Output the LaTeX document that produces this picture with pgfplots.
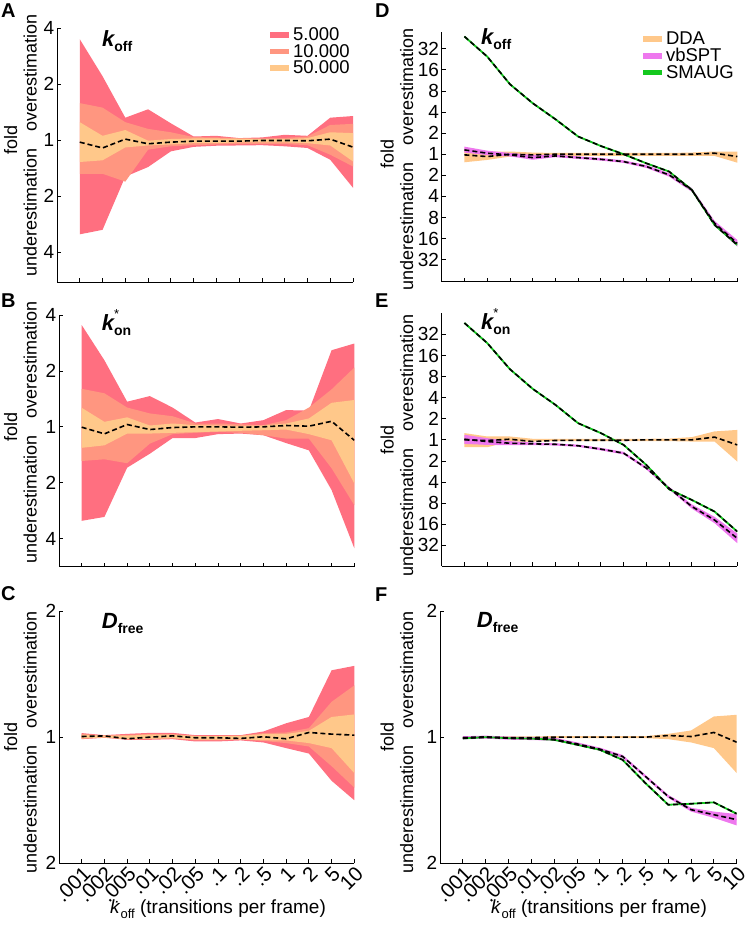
\documentclass[border=0pt]{standalone}
\usepackage{fontspec}
\setmainfont{Liberation Sans}
\usepackage{pgfplots}
\pgfplotsset{compat=1.18}
\usepackage{pgfplotstable}
\usepgfplotslibrary{fillbetween}

\definecolor{cred}{RGB}{255,111,128}
\definecolor{csal}{RGB}{255,150,128}
\definecolor{cyel}{RGB}{255,200,138}
\definecolor{cmag}{RGB}{238,120,238}
\definecolor{cgrn}{RGB}{20,200,30}

% panels A-C: log2(estimate/true), bands for 5.000 / 10.000 / 50.000 trajectories
\pgfplotstableread{
x rlo rhi slo shi ylo yhi med
0 -1.68 1.80 -0.60 0.66 -0.39 0.32 -0.036
1 -1.60 1.14 -0.60 0.58 -0.36 0.077 -0.14
2 -0.65 0.40 -0.74 0.32 -0.13 0.18 0.018
3 -0.48 0.55 -0.17 0.20 -0.095 -0.01 -0.065
4 -0.20 0.30 -0.11 0.14 -0.077 0.02 -0.036
5 -0.12 0.065 -0.09 0.054 -0.054 0.03 -0.018
6 -0.10 0.077 -0.077 0.048 -0.054 0.03 -0.018
7 -0.095 0.036 -0.07 0.036 -0.04 0.024 -0.018
8 -0.09 0.048 -0.065 0.03 -0.04 0.018 -0.006
9 -0.11 0.095 -0.07 0.04 -0.04 0.018 -0.006
10 -0.14 0.077 -0.09 0.065 -0.054 0.036 -0.012
11 -0.35 0.40 -0.26 0.27 -0.095 0.14 0.018
12 -0.85 0.43 -0.47 0.29 -0.38 0.125 -0.125
}\tA
\pgfplotstableread{
x rlo rhi slo shi ylo yhi med
0 -1.68 1.82 -0.61 0.68 -0.375 0.34 -0.006
1 -1.61 1.19 -0.58 0.60 -0.33 0.09 -0.125
2 -0.73 0.45 -0.65 0.345 -0.12 0.17 0.042
3 -0.48 0.55 -0.30 0.24 -0.12 0.024 -0.048
4 -0.20 0.345 -0.13 0.19 -0.107 0.06 -0.012
5 -0.20 0.077 -0.107 0.06 -0.095 0.03 0
6 -0.13 0.14 -0.09 0.06 -0.083 0.024 0
7 -0.12 0.06 -0.107 0.048 -0.07 0.018 -0.006
8 -0.15 0.12 -0.15 0.03 -0.06 0.024 0
9 -0.29 0.30 -0.21 0.12 -0.048 0.06 0.024
10 -0.42 0.29 -0.21 0.345 -0.13 0.15 0.012
11 -1.13 1.37 -0.74 0.67 -0.24 0.43 0.10
12 -2.17 1.49 -1.40 1.06 -1.01 0.48 -0.24
}\tB
\pgfplotstableread{
x rlo rhi slo shi ylo yhi med
0 -0.016 0.032 -0.013 0.026 -0.010 0.018 0.005
1 -0.005 0.016 -0.003 0.013 -0.002 0.012 0.010
2 -0.021 0.026 -0.018 0.018 -0.015 0.012 -0.013
3 -0.021 0.034 -0.016 0.026 -0.012 0.020 0
4 -0.016 0.034 -0.010 0.024 -0.008 0.020 0.010
5 -0.034 0.016 -0.026 0.011 -0.020 0.008 -0.005
6 -0.034 0.016 -0.026 0.011 -0.020 0.008 -0.005
7 -0.026 0.016 -0.021 0.013 -0.018 0.010 -0.010
8 -0.042 0.045 -0.030 0.032 -0.024 0.024 0.003
9 -0.087 0.110 -0.047 0.037 -0.026 0.026 -0.013
10 -0.130 0.160 -0.074 0.071 -0.047 0.050 0.037
11 -0.346 0.530 -0.230 0.280 -0.087 0.160 0.024
12 -0.500 0.565 -0.400 0.410 -0.285 0.180 0.016
}\tC
% panels D-F: DDA band/median, vbSPT band/median, SMAUG median
\pgfplotstableread{
x dlo dhi dmed vlo vhi vmed smed
0 -0.38 0.28 -0.03 0.08 0.36 0.205 5.58
1 -0.27 0.13 -0.11 -0.04 0.17 0.05 4.63
2 -0.11 0.13 0.00 -0.10 0.06 -0.03 3.32
3 -0.14 0.08 -0.03 -0.26 -0.03 -0.16 2.42
4 -0.08 0.06 0.00 -0.14 -0.02 -0.08 1.66
5 -0.08 0.06 0.00 -0.22 -0.10 -0.16 0.84
6 -0.08 0.06 0.00 -0.30 -0.18 -0.24 0.39
7 -0.08 0.06 0.00 -0.41 -0.29 -0.35 0.00
8 -0.08 0.06 0.00 -0.65 -0.51 -0.58 -0.43
9 -0.08 0.06 0.00 -1.06 -0.90 -0.98 -0.82
10 -0.08 0.08 0.00 -1.78 -1.60 -1.69 -1.69
11 -0.08 0.13 0.05 -3.38 -3.16 -3.27 -3.35
12 -0.40 0.13 -0.11 -4.38 -4.06 -4.22 -4.30
}\tD
\pgfplotstableread{
x dlo dhi dmed vlo vhi vmed smed
0 -0.35 0.32 0.00 -0.19 0.24 0.03 5.54
1 -0.35 0.16 -0.03 -0.24 0.08 -0.08 4.59
2 -0.08 0.16 0.03 -0.25 -0.06 -0.16 3.35
3 -0.08 0.05 -0.08 -0.25 -0.13 -0.19 2.42
4 -0.06 0.05 -0.03 -0.27 -0.17 -0.21 1.66
5 -0.06 0.05 -0.02 -0.33 -0.23 -0.28 0.79
6 -0.06 0.05 -0.02 -0.50 -0.38 -0.44 0.32
7 -0.06 0.05 -0.02 -0.69 -0.57 -0.63 -0.24
8 -0.06 0.05 0.00 -1.40 -1.28 -1.34 -1.19
9 -0.06 0.06 0.00 -2.35 -2.23 -2.29 -2.34
10 -0.08 0.13 0.00 -3.26 -3.06 -3.16 -2.85
11 -0.08 0.40 0.13 -3.95 -3.65 -3.80 -3.40
12 -1.03 0.47 -0.24 -4.90 -4.44 -4.67 -4.35
}\tE
\pgfplotstableread{
x dlo dhi dmed vlo vhi vmed smed
0 -0.010 0.006 -0.005 -0.017 0.007 -0.005 -0.010
1 -0.008 0.008 0.000 -0.012 0.012 0.000 0.000
2 -0.010 0.006 -0.004 -0.020 0.004 -0.008 -0.008
3 -0.010 0.006 -0.004 -0.023 0.001 -0.011 -0.011
4 -0.008 0.008 0.000 -0.028 -0.004 -0.016 -0.021
5 -0.008 0.008 0.000 -0.065 -0.041 -0.053 -0.060
6 -0.008 0.008 0.000 -0.107 -0.083 -0.095 -0.100
7 -0.008 0.008 0.000 -0.165 -0.141 -0.153 -0.180
8 -0.008 0.008 0.000 -0.323 -0.299 -0.311 -0.364
9 -0.016 0.026 0.013 -0.482 -0.458 -0.470 -0.536
10 -0.042 0.053 0.005 -0.590 -0.560 -0.575 -0.528
11 -0.087 0.164 0.037 -0.640 -0.590 -0.615 -0.517
12 -0.285 0.177 -0.040 -0.700 -0.610 -0.654 -0.607
}\tF

\pgfplotsset{
  swatch/.style={legend image code/.code={\fill[##1, draw=none] (0pt,-2.8pt) rectangle (19pt,2.8pt);}},
  panel/.style={
    scale only axis, anchor=south west,
    axis lines*=left, axis line style={-, line width=0.9pt},
    xmin=-1, xmax=12, xtick={0,...,12}, xticklabels={},
    tick align=inside, major tick length=4pt,
    every tick/.style={black, line width=0.8pt},
    tick label style={font=\fontsize{19}{22}\selectfont},
    yticklabel style={inner sep=2.5pt},
    legend style={draw=none, fill=none, anchor=north west,
      font=\fontsize{18.5}{20}\selectfont, inner sep=0pt,
      row sep=0.5pt, column sep=3pt, nodes={inner sep=0.8pt}},
    legend cell align=left,
  },
  bottomlabels/.style={
    xticklabels={.001,.002,.005,.01,.02,.05,.1,.2,.5,1,2,5,10},
    xticklabel style={rotate=45, anchor=north east, inner sep=1pt, font=\fontsize{20.5}{22}\selectfont},
  },
  med/.style={black, line width=1.6pt, dash pattern=on 5pt off 3pt, forget plot},
}

\newcommand{\threebands}[1]{%
  \addplot[name path=rh, draw=none, forget plot] table[x=x,y=rhi]{#1};
  \addplot[name path=rl, draw=none, forget plot] table[x=x,y=rlo]{#1};
  \addplot[fill=cred, draw=none, swatch] fill between[of=rh and rl];
  \addplot[name path=sh, draw=none, forget plot] table[x=x,y=shi]{#1};
  \addplot[name path=sl, draw=none, forget plot] table[x=x,y=slo]{#1};
  \addplot[fill=csal, draw=none, swatch] fill between[of=sh and sl];
  \addplot[name path=yh, draw=none, forget plot] table[x=x,y=yhi]{#1};
  \addplot[name path=yl, draw=none, forget plot] table[x=x,y=ylo]{#1};
  \addplot[fill=cyel, draw=none, swatch] fill between[of=yh and yl];
  \addplot[med] table[x=x,y=med]{#1};
}
\newcommand{\methods}[1]{%
  \addplot[name path=dh, draw=none, forget plot] table[x=x,y=dhi]{#1};
  \addplot[name path=dl, draw=none, forget plot] table[x=x,y=dlo]{#1};
  \addplot[fill=cyel, draw=none, swatch] fill between[of=dh and dl];
  \addplot[name path=vh, draw=none, forget plot] table[x=x,y=vhi]{#1};
  \addplot[name path=vl, draw=none, forget plot] table[x=x,y=vlo]{#1};
  \addplot[fill=cmag, draw=none, swatch] fill between[of=vh and vl];
  \addplot[cmag, line width=1.5pt, forget plot] table[x=x,y=vmed]{#1};
  \addplot[cgrn, line width=1.8pt, swatch] table[x=x,y=smed]{#1};
  \addplot[med] table[x=x,y=dmed]{#1};
  \addplot[med] table[x=x,y=vmed]{#1};
  \addplot[med] table[x=x,y=smed]{#1};
}

\newcommand{\foldlabel}{fold\\\makebox[130pt][r]{underestimation}\hspace{17pt}\makebox[130pt][l]{overestimation}}
\newcommand{\koff}{{\fontsize{22}{24}\selectfont\bfseries\itshape k}\raisebox{-5pt}{\fontsize{14}{16}\selectfont\bfseries off}}
\newcommand{\kon}{{\fontsize{22}{24}\selectfont\bfseries\itshape k}\rlap{\raisebox{12pt}{\fontsize{13}{14}\selectfont *}}\raisebox{-5pt}{\fontsize{14}{16}\selectfont\bfseries on}}
\newcommand{\Dfree}{{\fontsize{22}{24}\selectfont\bfseries\itshape D}\raisebox{-5pt}{\fontsize{14}{16}\selectfont\bfseries free}}
\newcommand{\xlab}{\textit{\.k}\raisebox{-4.5pt}{\fontsize{13}{15}\selectfont off} (transitions per frame)}

\begin{document}
\begin{tikzpicture}

% A
\begin{axis}[panel, at={(57pt,646pt)}, width=296pt, height=254pt,
  ymin=-2.53, ymax=2, ytick={-2,-1,0,1,2}, yticklabels={4,2,1,2,4},
  legend style={at={(0.72,1.005)}}]
\threebands{\tA}
\legend{5.000,10.000,50.000}
\end{axis}
% D
\begin{axis}[panel, at={(441.7pt,646.3pt)}, width=295.6pt, height=249.4pt,
  ymin=-6.04, ymax=5.78, ytick={-5,...,5}, yticklabels={32,16,8,4,2,1,2,4,8,16,32},
  legend style={at={(0.681,1.005)}}]
\methods{\tD}
\legend{DDA,vbSPT,SMAUG}
\end{axis}
% B
\begin{axis}[panel, at={(59pt,361.3pt)}, width=295.3pt, height=251.7pt,
  ymin=-2.5, ymax=2, ytick={-2,-1,0,1,2}, yticklabels={4,2,1,2,4}]
\threebands{\tB}
\end{axis}
% E
\begin{axis}[panel, at={(441.7pt,362pt)}, width=295.6pt, height=252.7pt,
  ymin=-5.98, ymax=6, ytick={-5,...,5}, yticklabels={32,16,8,4,2,1,2,4,8,16,32}]
\methods{\tE}
\end{axis}
% C
\begin{axis}[panel, bottomlabels, at={(59pt,64.7pt)}, width=295.3pt, height=252.3pt,
  ymin=-1, ymax=1, ytick={-1,0,1}, yticklabels={2,1,2}]
\threebands{\tC}
\end{axis}
% F
\begin{axis}[panel, bottomlabels, at={(440pt,64.7pt)}, width=296.7pt, height=252.3pt,
  ymin=-1, ymax=1, ytick={-1,0,1}, yticklabels={2,1,2}]
\methods{\tF}
\end{axis}

% y labels
\begin{scope}[every node/.style={rotate=90, align=center, inner sep=0pt, font=\fontsize{18}{19.5}\selectfont}]
\node at (20.5pt,787.7pt) {\foldlabel};
\node at (20.5pt,501.3pt) {\foldlabel};
\node at (20.5pt,190.7pt) {\foldlabel};
\node at (397pt,773.7pt) {\foldlabel};
\node at (397pt,488pt) {\foldlabel};
\node at (397pt,190.7pt) {\foldlabel};
\end{scope}

% panel titles
\begin{scope}[every node/.style={anchor=base west, inner sep=0pt}]
\node at (102pt,881.3pt) {\koff};
\node at (481pt,883pt) {\koff};
\node at (101.7pt,597.3pt) {\kon};
\node at (481pt,598pt) {\kon};
\node at (101.7pt,299.7pt) {\Dfree};
\node at (476.7pt,300pt) {\Dfree};
\end{scope}

% panel letters
\begin{scope}[every node/.style={anchor=base west, inner sep=0pt, font=\fontsize{20}{22}\selectfont\bfseries}]
\node at (1pt,910pt) {A};
\node at (375pt,910pt) {D};
\node at (1pt,620pt) {B};
\node at (375pt,620pt) {E};
\node at (1pt,327pt) {C};
\node at (375pt,326pt) {F};
\end{scope}

% x labels
\node[anchor=base, inner sep=0pt, font=\fontsize{19}{22}\selectfont] at (218pt,14pt) {\xlab};
\node[anchor=base, inner sep=0pt, font=\fontsize{19}{22}\selectfont] at (599pt,14pt) {\xlab};
\path (0pt,0pt) rectangle (750pt,928pt);
\end{tikzpicture}
\end{document}
